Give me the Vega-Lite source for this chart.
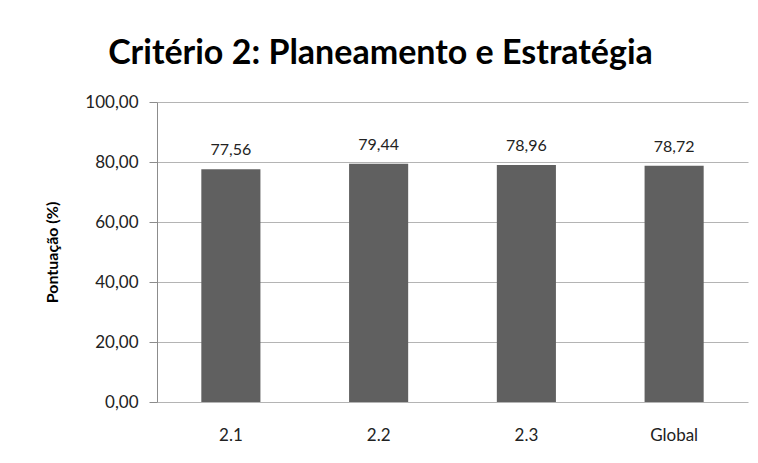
{
  "$schema": "https://vega.github.io/schema/vega-lite/v6.json",
  "width": 591,
  "height": 300,
  "autosize": {"type": "none"},
  "padding": {"left": 157, "top": 102, "right": 10, "bottom": 61},
  "background": "white",
  "config": {
    "font": "Lato",
    "locale": {"number": {"decimal": ",", "thousands": ".", "grouping": [3], "currency": ["€", ""]}},
    "view": {"stroke": null}
  },
  "title": {
    "text": "Critério 2: Planeamento e Estratégia",
    "font": "Lato",
    "fontSize": 34,
    "fontWeight": "bold",
    "color": "#000000",
    "anchor": "middle",
    "frame": "group",
    "dx": -72,
    "offset": -5,
    "baseline": "alphabetic"
  },
  "data": {
    "values": [
      {"criterio": "2.1", "pontuacao": 77.56},
      {"criterio": "2.2", "pontuacao": 79.44},
      {"criterio": "2.3", "pontuacao": 78.96},
      {"criterio": "Global", "pontuacao": 78.72}
    ]
  },
  "encoding": {
    "x": {
      "field": "criterio",
      "type": "nominal",
      "sort": null,
      "scale": {"paddingInner": 0.6, "paddingOuter": 0.3},
      "axis": {
        "title": null,
        "labelAngle": 0,
        "ticks": false,
        "domain": false,
        "labelPadding": 25,
        "labelFontSize": 17,
        "labelColor": "#222222",
        "labelFont": "Lato"
      }
    },
    "y": {
      "field": "pontuacao",
      "type": "quantitative",
      "scale": {"domain": [0, 100], "nice": false},
      "axis": {
        "title": "Pontuação (%)",
        "titleFontSize": 16,
        "titleFontWeight": "bold",
        "titleColor": "#000000",
        "titlePadding": 24,
        "values": [0, 20, 40, 60, 80, 100],
        "format": ".2f",
        "labelFontSize": 17,
        "labelColor": "#222222",
        "labelPadding": 11,
        "tickSize": 8,
        "tickColor": "#8c8c8c",
        "domainColor": "#8c8c8c",
        "gridColor": "#b4b4b4",
        "grid": true
      }
    }
  },
  "layer": [
    {
      "mark": {"type": "bar", "color": "#606060"}
    },
    {
      "mark": {"type": "text", "dy": -11, "fontSize": 16, "color": "#222222", "baseline": "bottom"},
      "encoding": {
        "text": {"field": "pontuacao", "type": "quantitative", "format": ".2f"}
      }
    }
  ]
}
